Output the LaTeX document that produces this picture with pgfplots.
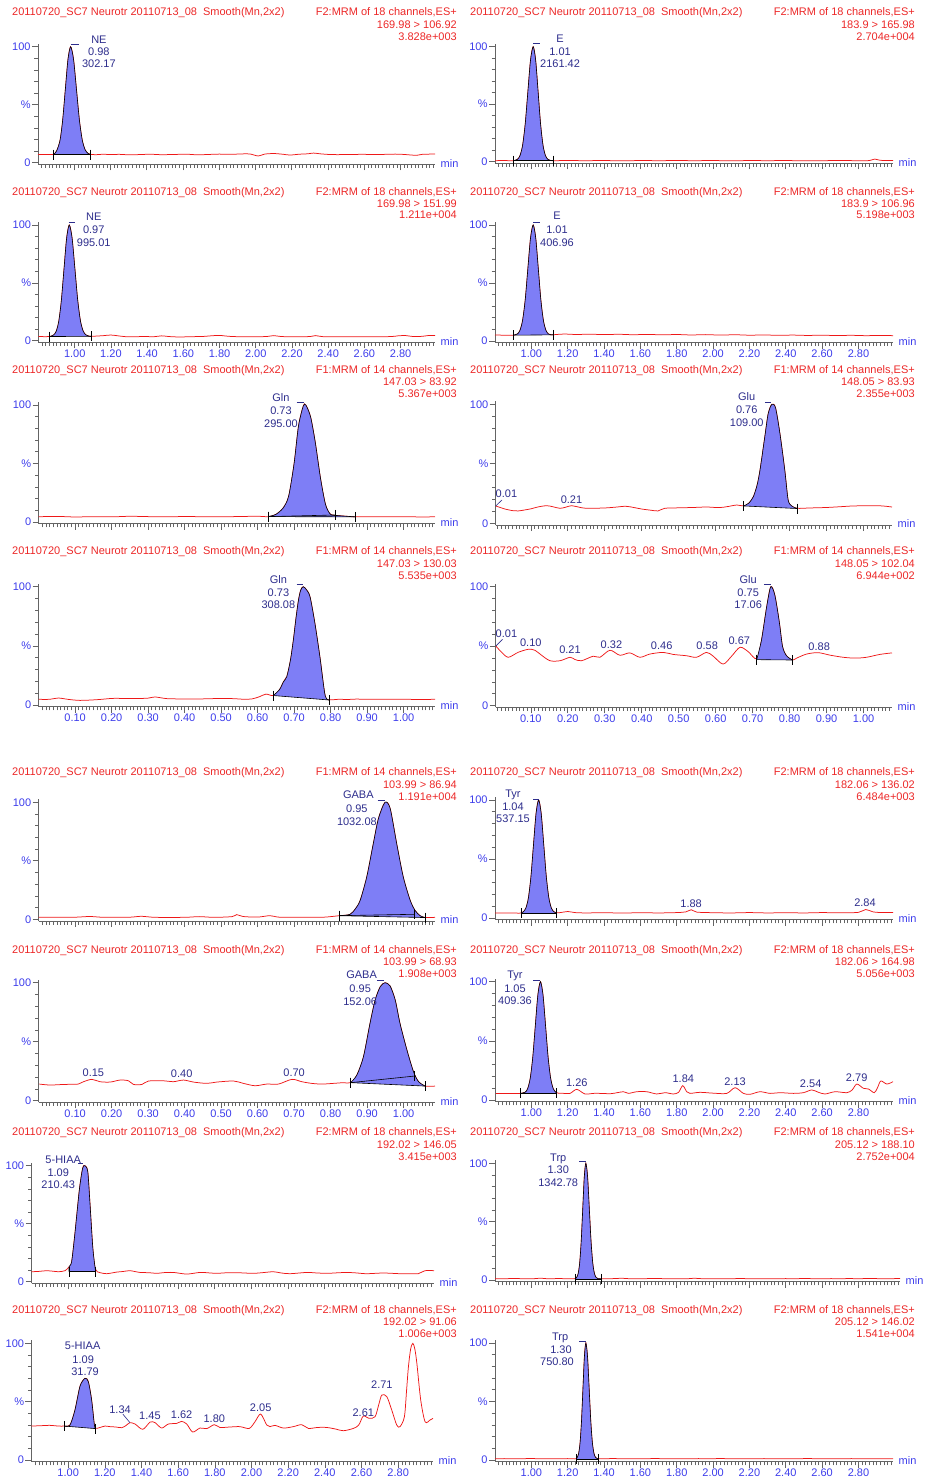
\documentclass[border=0pt]{standalone}
\usepackage{fontspec}
\setmainfont{Liberation Sans}
\usepackage{pgfplots}
\pgfplotsset{compat=1.18}

\definecolor{trcred}{RGB}{238,24,24}
\definecolor{hdrred}{RGB}{236,40,40}
\definecolor{tickblue}{RGB}{60,60,235}
\definecolor{lblnavy}{RGB}{45,45,140}
\definecolor{peakfill}{RGB}{126,126,246}
\definecolor{axgray}{RGB}{100,100,100}

\newcommand\pf{\fontsize{11}{13}\selectfont}

\tikzset{
  hdrsty/.style={font=\pf, text=hdrred, inner sep=0pt, text height=7.9pt, text depth=0pt},
  lbl/.style={font=\pf, text=lblnavy, inner sep=0pt, text height=7.9pt, text depth=0pt, anchor=center},
}

% panel header: x-left, x-right, y of the three lines, then the three right-hand lines
\newcommand\hdr[8]{%
  \node[hdrsty, anchor=west] at (#1pt,-#3pt) {20110720\_SC7 Neurotr 20110713\_08\hspace{0.55em}Smooth(Mn,2x2)};%
  \node[hdrsty, anchor=east] at (#2pt,-#3pt) {#6};%
  \node[hdrsty, anchor=east] at (#2pt,-#4pt) {#7};%
  \node[hdrsty, anchor=east] at (#2pt,-#5pt) {#8};%
}
% peak annotations
\newcommand\plab[3]{\node[lbl] at (axis cs:#1,#2) {#3};}
\newcommand\alab[3]{\node[lbl, yshift=#2pt] at (axis cs:#1,100) {#3};}
\newcommand\adash[3]{\draw[lblnavy, line width=0.7pt] ([yshift=#3pt]axis cs:#1,100) -- ([yshift=#3pt]axis cs:#2,100);}
\newcommand\bline[4]{\addplot[black, line width=0.6pt, mark=|, mark size=5pt, mark options={solid, line width=0.6pt}] coordinates {(#1,#2) (#3,#4)};}
\newcommand\minlab{\node[font=\pf, text=tickblue, inner sep=0pt, text height=5.7pt, text depth=0pt, anchor=west, xshift=5.5pt] at (rel axis cs:1,0) {min};}

\pgfplotsset{
  chrom/.style={
    scale only axis, anchor=south west,
    axis lines*=left, axis line style={axgray, line width=0.7pt, -},
    ymin=-1.5, ymax=102.5,
    ytick={0,50,100}, yticklabels={0,\%,100},
    minor ytick={10,20,30,40,60,70,80,90},
    tick align=outside, major tick length=6pt, minor tick length=3.5pt,
    tick style={axgray, line width=0.65pt},
    tick label style={font=\pf, text=tickblue, inner sep=1.2pt},
    /pgf/number format/assume math mode=true,
    xticklabel style={/pgf/number format/fixed, /pgf/number format/fixed zerofill, /pgf/number format/precision=2},
    clip=false,
  },
  wideax/.style={xtick={1,1.2,...,2.8}, minor xtick={0.82,0.84,...,2.98}},
  narrowax/.style={xtick={0.1,0.2,...,1.0}, minor xtick={0.01,0.02,...,1.08}},
  nolab/.style={xticklabels={}},
  tr/.style={draw=trcred, line width=0.75pt, smooth, tension=0.5},
  peak/.style={draw=black, line width=0.6pt, fill=peakfill, smooth, tension=0.45},
}

\begin{document}
\begin{tikzpicture}
\path[use as bounding box] (0,0) rectangle (924pt,-1479pt);

% ---------------- row 1 ----------------
\hdr{12}{457}{12}{24.5}{36.7}{F2:MRM of 18 channels,ES+}{169.98 > 106.92}{3.828e+003}
\hdr{470}{915}{12}{24.5}{36.7}{F2:MRM of 18 channels,ES+}{183.9 > 165.98}{2.704e+004}

\begin{axis}[chrom, wideax, nolab, at={(38pt,-164.44pt)}, width=397pt, height=120.64pt, xmin=0.80, xmax=2.99]
\addplot[tr] coordinates {(0.80,7.2) (0.83,7.0) (0.86,7.1) (0.88,7.0) (0.893,8.0) (0.9055,11.1) (0.922,19.6) (0.9365,37.2) (0.951,63.4) (0.9655,89.1) (0.98,100) (0.996,89.1) (1.012,63.4) (1.028,37.2) (1.044,19.6) (1.06,11.1) (1.076,8.0) (1.091,7.2) (1.12,6.9) (1.16,7.3) (1.20,7.0) (1.25,7.2) (1.30,6.8) (1.36,7.0) (1.42,7.3) (1.48,6.9) (1.55,7.1) (1.62,7.3) (1.68,6.8) (1.74,7.1) (1.80,7.4) (1.86,7.2) (1.93,7.6) (1.97,7.5) (2.015,5.8) (2.05,7.4) (2.10,7.9) (2.15,7.3) (2.19,6.6) (2.24,7.3) (2.29,7.7) (2.32,8.3) (2.36,7.6) (2.42,7.0) (2.50,7.0) (2.58,7.2) (2.66,7.1) (2.72,7.2) (2.77,7.4) (2.82,7.1) (2.86,6.6) (2.89,6.4) (2.92,7.2) (2.96,7.4) (2.99,7.4)};
\addplot[peak] coordinates {(0.887,7.0) (0.893,8.0) (0.9055,11.1) (0.922,19.6) (0.9365,37.2) (0.951,63.4) (0.9655,89.1) (0.98,100) (0.996,89.1) (1.012,63.4) (1.028,37.2) (1.044,19.6) (1.06,11.1) (1.076,8.0) (1.091,7.0)};
\bline{0.887}{7}{1.091}{7}
\alab{1.136}{6.7}{NE}\alab{1.136}{-5.3}{0.98}\alab{1.136}{-16.6}{302.17}
\adash{0.98}{1.024}{2.7}
\minlab
\end{axis}

\begin{axis}[chrom, wideax, nolab, at={(495pt,-163.43pt)}, width=398pt, height=119.6pt, xmin=0.80, xmax=2.99]
\addplot[tr] coordinates {(0.80,0.9) (0.85,1.0) (0.90,0.9) (0.923,2.0) (0.9375,5.25) (0.952,14.3) (0.9665,33.1) (0.981,61.0) (0.9955,88.4) (1.01,100) (1.0235,88.4) (1.037,61.0) (1.0505,33.1) (1.064,14.3) (1.0775,5.25) (1.091,2.0) (1.105,1.1) (1.12,0.9) (1.2,1.0) (1.3,0.9) (1.4,1.0) (1.5,0.8) (1.6,1.0) (1.7,0.9) (1.8,1.0) (1.9,0.9) (2.0,1.0) (2.1,0.8) (2.2,1.0) (2.3,0.9) (2.4,1.0) (2.5,0.8) (2.6,0.9) (2.7,1.0) (2.8,0.9) (2.86,1.0) (2.89,2.3) (2.92,1.2) (2.99,1.0)};
\addplot[peak] coordinates {(0.90,0.9) (0.923,2.0) (0.9375,5.25) (0.952,14.3) (0.9665,33.1) (0.981,61.0) (0.9955,88.4) (1.01,100) (1.0235,88.4) (1.037,61.0) (1.0505,33.1) (1.064,14.3) (1.0775,5.25) (1.091,2.0) (1.105,1.1) (1.121,0.9)};
\bline{0.90}{0.9}{1.121}{0.9}
\alab{1.158}{8.4}{E}\alab{1.158}{-5}{1.01}\alab{1.158}{-17.3}{2161.42}
\adash{1.01}{1.05}{3.4}
\minlab
\end{axis}

% ---------------- row 2 ----------------
\hdr{12}{457}{192}{203.5}{215}{F2:MRM of 18 channels,ES+}{169.98 > 151.99}{1.211e+004}
\hdr{470}{915}{192}{203.5}{215}{F2:MRM of 18 channels,ES+}{183.9 > 106.96}{5.198e+003}

\begin{axis}[chrom, wideax, at={(38.5pt,-342.44pt)}, width=396.5pt, height=120.33pt, xmin=0.80, xmax=2.99]
\addplot[tr] coordinates {(0.80,3.6) (0.84,3.5) (0.862,3.6) (0.883,4.9) (0.8975,8.0) (0.912,16.8) (0.9265,35.0) (0.941,62.1) (0.9555,88.7) (0.97,100) (0.9855,88.7) (1.001,62.1) (1.0165,35.0) (1.032,16.8) (1.0475,8.0) (1.063,4.9) (1.078,4.0) (1.091,3.8) (1.12,4.0) (1.16,4.4) (1.20,4.9) (1.24,4.2) (1.28,3.5) (1.32,3.4) (1.38,3.6) (1.44,3.5) (1.48,4.2) (1.52,3.6) (1.58,3.2) (1.64,3.5) (1.70,3.6) (1.76,4.3) (1.80,4.6) (1.85,3.8) (1.92,3.4) (2.00,3.5) (2.06,3.6) (2.10,4.4) (2.14,3.6) (2.22,3.4) (2.30,3.6) (2.33,4.4) (2.37,3.5) (2.45,3.4) (2.55,3.5) (2.65,3.4) (2.75,3.6) (2.79,4.3) (2.83,4.4) (2.87,3.6) (2.92,3.8) (2.95,4.4) (2.99,4.4)};
\addplot[peak] coordinates {(0.862,3.6) (0.883,4.9) (0.8975,8.0) (0.912,16.8) (0.9265,35.0) (0.941,62.1) (0.9555,88.7) (0.97,100) (0.9855,88.7) (1.001,62.1) (1.0165,35.0) (1.032,16.8) (1.0475,8.0) (1.063,4.9) (1.078,4.0) (1.091,3.8)};
\bline{0.862}{3.6}{1.091}{3.8}
\alab{1.105}{8.3}{NE}\alab{1.105}{-5}{0.97}\alab{1.105}{-17.7}{995.01}
\adash{0.967}{1.004}{2.7}
\minlab
\end{axis}

\begin{axis}[chrom, wideax, at={(495pt,-342.74pt)}, width=398pt, height=120.64pt, xmin=0.80, xmax=2.99]
\addplot[tr] coordinates {(0.80,5.2) (0.85,5.0) (0.90,5.0) (0.923,6.05) (0.9375,9.2) (0.952,17.9) (0.9665,35.8) (0.981,62.6) (0.9955,88.8) (1.01,100) (1.024,88.8) (1.038,62.6) (1.052,35.8) (1.066,17.9) (1.08,9.2) (1.094,6.05) (1.108,5.3) (1.13,5.5) (1.18,6.0) (1.25,5.6) (1.32,5.9) (1.40,5.5) (1.48,5.8) (1.56,5.4) (1.64,5.7) (1.72,5.3) (1.80,5.6) (1.88,5.2) (1.96,5.5) (2.04,5.1) (2.12,5.4) (2.20,5.0) (2.28,5.2) (2.36,4.9) (2.44,5.1) (2.52,4.8) (2.60,5.0) (2.68,4.7) (2.76,4.9) (2.84,4.6) (2.92,4.8) (2.99,4.6)};
\addplot[peak] coordinates {(0.90,5.0) (0.923,6.05) (0.9375,9.2) (0.952,17.9) (0.9665,35.8) (0.981,62.6) (0.9955,88.8) (1.01,100) (1.024,88.8) (1.038,62.6) (1.052,35.8) (1.066,17.9) (1.08,9.2) (1.094,6.05) (1.108,5.3) (1.12,5.3)};
\bline{0.90}{5.0}{1.12}{5.3}
\alab{1.141}{9}{E}\alab{1.141}{-5}{1.01}\alab{1.141}{-18}{406.96}
\adash{1.01}{1.05}{3}
\minlab
\end{axis}

% ---------------- row 3 ----------------
\hdr{12}{457}{370}{382}{393.5}{F1:MRM of 14 channels,ES+}{147.03 > 83.92}{5.367e+003}
\hdr{470}{915}{370}{382}{393.5}{F1:MRM of 14 channels,ES+}{148.05 > 83.93}{2.355e+003}

\begin{axis}[chrom, narrowax, nolab, at={(38.6pt,-523.76pt)}, width=396.4pt, height=121.68pt, xmin=0, xmax=1.086]
\addplot[tr] coordinates {(0.0,4.5) (0.05,4.8) (0.10,4.3) (0.15,4.6) (0.20,4.4) (0.25,4.9) (0.30,4.6) (0.35,4.4) (0.40,4.7) (0.45,4.5) (0.50,4.4) (0.55,4.7) (0.60,4.9) (0.629,4.6) (0.65,6.5) (0.67,12) (0.685,22) (0.70,50) (0.712,82) (0.725,99) (0.732,100) (0.745,90) (0.758,68) (0.772,38) (0.786,15) (0.80,6.5) (0.82,5.5) (0.84,5.0) (0.867,4.4) (0.90,4.6) (0.95,4.5) (1.0,4.6) (1.05,4.3) (1.086,4.5)};
\addplot[peak] coordinates {(0.629,4.6) (0.65,6.5) (0.67,12) (0.685,22) (0.70,50) (0.712,82) (0.725,99) (0.732,100) (0.745,90) (0.758,68) (0.772,38) (0.786,15) (0.80,6.5) (0.82,5.5) (0.84,5.0) (0.867,4.4)};
\bline{0.629}{4.6}{0.812}{6.0}
\bline{0.629}{4.6}{0.867}{4.4}
\alab{0.664}{7.4}{Gln}\alab{0.664}{-5.6}{0.73}\alab{0.664}{-18.3}{295.00}
\adash{0.707}{0.728}{2.7}
\minlab
\end{axis}

\begin{axis}[chrom, narrowax, nolab, at={(495.7pt,-525.09pt)}, width=396.3pt, height=123.76pt, xmin=0.005, xmax=1.077]
\addplot[tr] coordinates {(0.005,14.6) (0.03,12.0) (0.052,10.6) (0.066,10.4) (0.085,11.3) (0.102,12.3) (0.12,13.8) (0.143,14.8) (0.16,13.9) (0.179,12.6) (0.195,13.6) (0.21,14.8) (0.23,13.6) (0.25,12.6) (0.30,12.9) (0.33,13.6) (0.357,14.3) (0.38,13.2) (0.40,12.0) (0.425,11.0) (0.444,10.4) (0.462,12.6) (0.50,13.0) (0.54,13.3) (0.575,13.7) (0.61,13.2) (0.635,14.2) (0.657,15.4) (0.676,14.6) (0.69,17.0) (0.702,22.4) (0.712,32) (0.72,44.8) (0.733,72.8) (0.742,92) (0.752,100) (0.762,97) (0.774,75) (0.787,44.5) (0.796,19.6) (0.806,14.5) (0.821,12.6) (0.855,12.9) (0.90,13.3) (0.94,14.0) (0.975,14.6) (1.04,14.8) (1.077,13.7)};
\addplot[peak] coordinates {(0.676,14.6) (0.69,17.0) (0.702,22.4) (0.712,32) (0.72,44.8) (0.733,72.8) (0.742,92) (0.752,100) (0.762,97) (0.774,75) (0.787,44.5) (0.796,19.6) (0.806,14.5) (0.821,12.4)};
\bline{0.676}{14.6}{0.821}{12.4}
\draw[lblnavy, line width=0.6pt] (axis cs:0.005,14.6) -- (axis cs:0.022,19.6);
\plab{0.034}{24.6}{0.01}\plab{0.21}{20.2}{0.21}
\alab{0.684}{7.6}{Glu}\alab{0.684}{-5.7}{0.76}\alab{0.684}{-18.4}{109.00}
\adash{0.733}{0.751}{2}
\minlab
\end{axis}

% ---------------- row 4 ----------------
\hdr{12}{457}{551}{564}{576}{F1:MRM of 14 channels,ES+}{147.03 > 130.03}{5.535e+003}
\hdr{470}{915}{551}{564}{576}{F1:MRM of 14 channels,ES+}{148.05 > 102.04}{6.944e+002}

\begin{axis}[chrom, narrowax, at={(38.6pt,-706.77pt)}, width=396.4pt, height=123.03pt, xmin=0, xmax=1.086]
\addplot[tr] coordinates {(0.0,4.8) (0.03,4.8) (0.054,5.9) (0.08,4.8) (0.113,3.9) (0.16,4.5) (0.205,5.6) (0.26,5.4) (0.30,5.8) (0.319,6.8) (0.351,5.4) (0.40,5.1) (0.44,5.1) (0.479,5.4) (0.53,5.4) (0.56,4.9) (0.584,5.1) (0.605,7.0) (0.623,9.2) (0.643,8.0) (0.66,13) (0.671,19.7) (0.68,24) (0.69,38) (0.698,55) (0.705,73) (0.712,88.7) (0.718,97) (0.725,100) (0.735,97) (0.744,91) (0.757,69) (0.771,40) (0.785,8) (0.797,4.5) (0.82,4.8) (0.85,4.7) (0.87,5.0) (0.90,4.8) (0.95,4.8) (1.0,4.8) (1.05,4.7) (1.086,4.8)};
\addplot[peak] coordinates {(0.643,8.0) (0.66,13) (0.671,19.7) (0.68,24) (0.69,38) (0.698,55) (0.705,73) (0.712,88.7) (0.718,97) (0.725,100) (0.735,97) (0.744,91) (0.757,69) (0.771,40) (0.785,8) (0.797,4.2)};
\bline{0.643}{8.0}{0.797}{4.2}
\alab{0.657}{7.4}{Gln}\alab{0.657}{-5.6}{0.73}\alab{0.657}{-18.3}{308.08}
\adash{0.707}{0.725}{2.7}
\minlab
\end{axis}

\begin{axis}[chrom, narrowax, at={(495.7pt,-707.49pt)}, width=396.3pt, height=123.76pt, xmin=0.005, xmax=1.077]
\addplot[tr] coordinates {(0.0054,50.2) (0.021,44.9) (0.039,40.7) (0.066,44.9) (0.093,47.4) (0.111,46.6) (0.129,42.4) (0.152,37.8) (0.179,37.8) (0.206,40.7) (0.219,38.9) (0.237,37.8) (0.269,41.6) (0.287,40.7) (0.314,46.6) (0.341,42.4) (0.368,44.4) (0.395,40.7) (0.422,43.4) (0.458,44.8) (0.485,43.1) (0.521,42.0) (0.548,40.7) (0.575,44.8) (0.593,41.7) (0.62,35.0) (0.643,41.6) (0.666,49.1) (0.688,45.4) (0.711,39.5) (0.724,55.2) (0.738,83.2) (0.749,100) (0.760,93) (0.772,70.6) (0.781,49.6) (0.792,41.8) (0.808,38.4) (0.819,40.0) (0.846,43.4) (0.877,44.6) (0.909,42.5) (0.945,40.7) (0.977,40) (1.008,40.7) (1.044,43.1) (1.077,44.4)};
\addplot[peak] coordinates {(0.711,38.7) (0.724,55.2) (0.738,83.2) (0.749,100) (0.760,93) (0.772,70.6) (0.781,49.6) (0.792,41.8) (0.808,38.4)};
\bline{0.711}{38.7}{0.808}{38.4}
\draw[lblnavy, line width=0.6pt] (axis cs:0.0054,50.2) -- (axis cs:0.0235,55.8);
\plab{0.034}{60.8}{0.01}\plab{0.100}{52.9}{0.10}\plab{0.206}{46.8}{0.21}\plab{0.318}{51.8}{0.32}
\plab{0.454}{50.2}{0.46}\plab{0.577}{50.2}{0.58}\plab{0.664}{54.6}{0.67}\plab{0.880}{49.6}{0.88}
\alab{0.688}{7.4}{Glu}\alab{0.688}{-5.6}{0.75}\alab{0.688}{-18.3}{17.06}
\adash{0.7305}{0.749}{2.7}
\minlab
\end{axis}

% ---------------- row 5 ----------------
\hdr{12}{457}{772}{785}{796.5}{F1:MRM of 14 channels,ES+}{103.99 > 86.94}{1.191e+004}
\hdr{470}{915}{772}{785}{796.5}{F2:MRM of 18 channels,ES+}{182.06 > 136.02}{6.484e+003}

\begin{axis}[chrom, narrowax, nolab, at={(38.6pt,-921.06pt)}, width=396.4pt, height=121.68pt, xmin=0, xmax=1.086]
\addplot[tr] coordinates {(0.0,1.7) (0.05,1.7) (0.10,1.8) (0.14,2.4) (0.18,1.7) (0.25,1.8) (0.28,2.6) (0.32,1.7) (0.40,1.7) (0.44,2.3) (0.48,1.7) (0.53,2.3) (0.543,4.0) (0.56,2.4) (0.60,1.9) (0.634,3.1) (0.66,1.8) (0.72,1.7) (0.78,1.8) (0.824,3.1) (0.853,4.2) (0.868,9) (0.881,16.2) (0.899,36.2) (0.917,64.7) (0.931,86.1) (0.949,100) (0.963,94.9) (0.981,64.7) (0.999,36.2) (1.018,16.2) (1.031,7.7) (1.045,3.1) (1.059,1.5) (1.086,1.7)};
\addplot[peak] coordinates {(0.824,3.1) (0.853,4.2) (0.868,9) (0.881,16.2) (0.899,36.2) (0.917,64.7) (0.931,86.1) (0.949,100) (0.963,94.9) (0.981,64.7) (0.999,36.2) (1.018,16.2) (1.031,7.7) (1.045,3.1) (1.059,1.5)};
\bline{0.824}{3.1}{1.030}{4.3}
\bline{0.824}{3.1}{1.059}{1.5}
\alab{0.876}{7.3}{GABA}\alab{0.872}{-6.7}{0.95}\alab{0.872}{-19.4}{1032.08}
\adash{0.929}{0.949}{2.3}
\minlab
\end{axis}

\begin{axis}[chrom, wideax, nolab, at={(495pt,-919.77pt)}, width=398pt, height=122.72pt, xmin=0.80, xmax=2.99]
\addplot[tr] coordinates {(0.80,4.2) (0.85,4.3) (0.90,4.2) (0.943,4.2) (0.956,5.3) (0.97,8.4) (0.984,17.2) (0.998,35.3) (1.012,62.3) (1.026,88.7) (1.04,100) (1.054,88.7) (1.068,62.3) (1.082,35.3) (1.096,17.2) (1.11,8.4) (1.124,5.3) (1.138,4.5) (1.16,4.6) (1.20,5.5) (1.24,4.6) (1.30,4.3) (1.40,4.5) (1.50,4.2) (1.60,4.5) (1.70,4.3) (1.80,4.6) (1.85,5.2) (1.88,7.0) (1.91,5.0) (2.00,4.5) (2.10,4.3) (2.20,4.6) (2.30,4.3) (2.40,4.5) (2.50,4.3) (2.60,4.6) (2.70,4.4) (2.80,4.8) (2.84,7.2) (2.88,5.2) (2.93,4.6) (2.99,4.7)};
\addplot[peak] coordinates {(0.943,4.2) (0.956,5.3) (0.97,8.4) (0.984,17.2) (0.998,35.3) (1.012,62.3) (1.026,88.7) (1.04,100) (1.054,88.7) (1.068,62.3) (1.082,35.3) (1.096,17.2) (1.11,8.4) (1.124,5.3) (1.138,4.2)};
\bline{0.943}{4.2}{1.138}{4.2}
\plab{1.879}{11.9}{1.88}\plab{2.836}{12.7}{2.84}
\alab{0.899}{6.7}{Tyr}\alab{0.899}{-6.6}{1.04}\alab{0.899}{-19}{537.15}
\adash{1.011}{1.04}{1}
\minlab
\end{axis}

% ---------------- row 6 ----------------
\hdr{12}{457}{950}{961.5}{973.3}{F1:MRM of 14 channels,ES+}{103.99 > 68.93}{1.908e+003}
\hdr{470}{915}{950}{961.5}{973.3}{F2:MRM of 18 channels,ES+}{182.06 > 164.98}{5.056e+003}

\begin{axis}[chrom, narrowax, at={(38.6pt,-1102.47pt)}, width=396.4pt, height=122.72pt, xmin=0, xmax=1.086]
\addplot[tr] coordinates {(0.002,14.1) (0.031,13.3) (0.07,13.8) (0.109,14.1) (0.123,16.1) (0.146,18.1) (0.168,16.1) (0.196,15.8) (0.223,17.5) (0.246,16.9) (0.26,13.8) (0.283,13.8) (0.301,16.7) (0.342,16.9) (0.369,16.1) (0.397,17.5) (0.424,15.8) (0.461,14.7) (0.488,15.8) (0.534,16.7) (0.561,14.7) (0.593,12.7) (0.625,14.1) (0.657,14.1) (0.694,18.1) (0.721,16.1) (0.748,14.7) (0.776,14.1) (0.808,14.7) (0.835,15.3) (0.855,15.3) (0.872,21.8) (0.89,37.3) (0.908,65.6) (0.922,85.3) (0.936,96.6) (0.949,100) (0.963,97.2) (0.977,85.3) (0.99,65.6) (1.009,43.0) (1.027,24.6) (1.041,16.1) (1.059,12.4) (1.086,12.4)};
\addplot[peak] coordinates {(0.855,15.3) (0.872,21.8) (0.89,37.3) (0.908,65.6) (0.922,85.3) (0.936,96.6) (0.949,100) (0.963,97.2) (0.977,85.3) (0.99,65.6) (1.009,43.0) (1.027,24.6) (1.041,16.1) (1.059,12.4)};
\bline{0.855}{15.3}{1.030}{20.9}
\bline{0.855}{15.3}{1.059}{12.4}
\plab{0.15}{23.7}{0.15}\plab{0.392}{22.6}{0.40}\plab{0.70}{23.7}{0.70}
\alab{0.885}{7.7}{GABA}\alab{0.881}{-5.6}{0.95}\alab{0.881}{-19}{152.06}
\adash{0.927}{0.945}{2.7}
\minlab
\end{axis}

\begin{axis}[chrom, wideax, at={(495pt,-1101.77pt)}, width=398pt, height=123.03pt, xmin=0.80, xmax=2.99]
\addplot[tr] coordinates {(0.805,5.6) (0.85,5.6) (0.90,5.5) (0.94,5.6) (0.966,6.6) (0.98,9.7) (0.994,18.4) (1.008,36.3) (1.022,62.9) (1.036,88.9) (1.05,100) (1.064,88.9) (1.078,62.9) (1.092,36.3) (1.106,18.4) (1.12,9.7) (1.134,6.6) (1.148,5.8) (1.18,5.6) (1.213,5.6) (1.25,9.0) (1.295,5.1) (1.34,5.6) (1.378,5.6) (1.44,5.4) (1.506,7.0) (1.534,5.6) (1.58,7.0) (1.635,7.0) (1.69,5.1) (1.736,6.2) (1.781,5.1) (1.81,6.5) (1.833,12.1) (1.855,7.0) (1.873,5.6) (1.928,6.5) (2.00,5.8) (2.075,5.6) (2.121,10.4) (2.167,5.6) (2.203,4.8) (2.258,7.0) (2.313,5.6) (2.368,6.2) (2.442,5.6) (2.497,6.2) (2.543,8.5) (2.58,6.5) (2.616,5.1) (2.671,7.0) (2.736,6.2) (2.765,8.5) (2.791,13.5) (2.827,9.9) (2.855,9.3) (2.887,6.2) (2.905,10.5) (2.923,16.1) (2.956,13.5) (2.99,15.5)};
\addplot[peak] coordinates {(0.94,5.6) (0.966,6.6) (0.98,9.7) (0.994,18.4) (1.008,36.3) (1.022,62.9) (1.036,88.9) (1.05,100) (1.064,88.9) (1.078,62.9) (1.092,36.3) (1.106,18.4) (1.12,9.7) (1.134,6.6) (1.14,5.6)};
\bline{0.94}{5.6}{1.14}{5.6}
\plab{1.25}{14.6}{1.26}\plab{1.836}{18.3}{1.84}\plab{2.121}{15.5}{2.13}\plab{2.537}{14.1}{2.54}\plab{2.79}{19.2}{2.79}
\alab{0.91}{6.7}{Tyr}\alab{0.91}{-6.6}{1.05}\alab{0.91}{-19}{409.36}
\adash{1.011}{1.048}{1}
\minlab
\end{axis}

% ---------------- row 7 ----------------
\hdr{12}{457}{1132}{1145}{1156.7}{F2:MRM of 18 channels,ES+}{192.02 > 146.05}{3.415e+003}
\hdr{470}{915}{1132}{1145}{1156.7}{F2:MRM of 18 channels,ES+}{205.12 > 188.10}{2.752e+004}

\begin{axis}[chrom, wideax, nolab, at={(31.5pt,-1283.44pt)}, width=402.5pt, height=120.64pt, xmin=0.80, xmax=2.996]
\addplot[tr] coordinates {(0.80,8.6) (0.84,8.9) (0.883,9.5) (0.92,9.0) (0.946,8.6) (0.983,9.5) (1.005,12.9) (1.019,17.2) (1.037,41.7) (1.061,79) (1.079,97.8) (1.092,100) (1.107,94.8) (1.119,67.5) (1.134,30.2) (1.146,13.0) (1.16,8.5) (1.174,7.8) (1.21,6.9) (1.265,8.3) (1.30,8.8) (1.337,9.5) (1.392,8.0) (1.44,7.8) (1.483,7.2) (1.52,7.8) (1.574,8.0) (1.647,6.6) (1.719,8.0) (1.77,7.6) (1.81,7.2) (1.85,7.6) (1.901,7.8) (1.95,7.6) (2.01,7.2) (2.06,7.8) (2.119,8.6) (2.16,7.6) (2.21,6.9) (2.301,8.0) (2.35,7.6) (2.41,7.2) (2.46,7.6) (2.52,8.0) (2.57,7.6) (2.629,6.9) (2.719,7.5) (2.81,6.9) (2.87,6.9) (2.91,6.9) (2.947,9.5) (2.996,9.5)};
\addplot[peak] coordinates {(1.005,8.6) (1.005,12.9) (1.019,17.2) (1.037,41.7) (1.061,79) (1.079,97.8) (1.092,100) (1.107,94.8) (1.119,67.5) (1.134,30.2) (1.146,13.0) (1.15,8.6)};
\bline{1.005}{8.6}{1.15}{8.6}
\alab{0.973}{6.4}{5-HIAA}\alab{0.946}{-6.6}{1.09}\alab{0.946}{-19.3}{210.43}
\adash{1.055}{1.083}{2.4}
\minlab
\end{axis}

\begin{axis}[chrom, nolab, xtick={1,1.2,...,2.8}, minor xtick={0.82,0.84,...,3.02}, at={(495pt,-1281.75pt)}, width=405pt, height=121.37pt, xmin=0.80, xmax=3.029]
\addplot[tr] coordinates {(0.80,1.2) (0.85,1.0) (0.90,1.4) (0.95,1.1) (1.00,1.0) (1.05,1.5) (1.10,1.0) (1.15,1.3) (1.20,1.0) (1.24,1.1) (1.249,2.1) (1.2575,5.3) (1.266,14.4) (1.2745,33.1) (1.283,61.0) (1.2915,88.4) (1.30,100) (1.3095,88.4) (1.319,61.0) (1.3285,33.1) (1.338,14.4) (1.3475,5.3) (1.357,2.1) (1.3665,1.2) (1.39,1.0) (1.45,1.2) (1.50,1.5) (1.55,1.0) (1.62,1.1) (1.68,1.4) (1.75,1.0) (1.80,1.1) (1.85,1.0) (1.90,1.5) (1.95,1.0) (2.02,1.1) (2.10,1.0) (2.15,1.4) (2.20,1.0) (2.30,1.1) (2.35,1.0) (2.40,1.2) (2.45,1.0) (2.50,1.4) (2.55,1.1) (2.60,1.0) (2.65,1.2) (2.70,1.0) (2.75,1.3) (2.80,1.0) (2.85,1.4) (2.90,1.2) (2.95,1.0) (3.00,1.2) (3.029,1.2)};
\addplot[peak] coordinates {(1.24,1.0) (1.249,2.1) (1.2575,5.3) (1.266,14.4) (1.2745,33.1) (1.283,61.0) (1.2915,88.4) (1.30,100) (1.3095,88.4) (1.319,61.0) (1.3285,33.1) (1.338,14.4) (1.3475,5.3) (1.357,2.1) (1.3665,1.2) (1.387,1.0)};
\bline{1.24}{1.0}{1.387}{1.0}
\alab{1.148}{6}{Trp}\alab{1.148}{-6.7}{1.30}\alab{1.148}{-19.4}{1342.78}
\adash{1.264}{1.30}{1.6}
\minlab
\end{axis}

% ---------------- row 8 ----------------
\hdr{12}{457}{1310}{1321.5}{1333.3}{F2:MRM of 18 channels,ES+}{192.02 > 91.06}{1.006e+003}
\hdr{470}{915}{1310}{1321.5}{1333.3}{F2:MRM of 18 channels,ES+}{205.12 > 146.02}{1.541e+004}

\begin{axis}[chrom, wideax, at={(31.5pt,-1461.75pt)}, width=401.5pt, height=121.37pt, xmin=0.80, xmax=2.99]
\addplot[tr] coordinates {(0.80,29.1) (0.85,29.4) (0.901,29.7) (0.947,29.1) (0.979,29.1) (1.01,30.0) (1.037,42.8) (1.065,63.4) (1.092,70.0) (1.11,67.1) (1.128,51.4) (1.143,30.0) (1.15,27.1) (1.174,27.9) (1.201,29.1) (1.228,28.6) (1.26,28.3) (1.292,27.7) (1.315,29.5) (1.337,32.0) (1.365,30.8) (1.407,26.3) (1.447,32.5) (1.474,32.0) (1.51,27.4) (1.546,30.8) (1.592,31.4) (1.619,33.1) (1.647,30.8) (1.679,24.0) (1.719,27.4) (1.756,26.9) (1.797,30.3) (1.828,27.9) (1.883,28.3) (1.937,28.6) (1.988,27.1) (2.019,32.8) (2.05,39.4) (2.083,30.0) (2.101,28.6) (2.128,29.7) (2.174,27.4) (2.228,28.6) (2.274,30.3) (2.31,27.1) (2.36,27.9) (2.41,27.9) (2.46,26.5) (2.501,25.1) (2.556,27.1) (2.585,30.0) (2.61,37.7) (2.64,35.7) (2.674,37.1) (2.695,48) (2.711,55.7) (2.738,54.3) (2.765,42.8) (2.792,30.0) (2.81,28.6) (2.834,37.1) (2.846,60) (2.856,80.0) (2.868,95) (2.88,100) (2.891,95) (2.902,82.8) (2.923,51.4) (2.947,32.8) (2.974,34.3) (2.99,35.7)};
\addplot[peak] coordinates {(0.979,29.1) (1.01,30.0) (1.037,42.8) (1.065,63.4) (1.092,70.0) (1.11,67.1) (1.128,51.4) (1.143,30.0) (1.15,26.9)};
\bline{0.979}{29.1}{1.15}{26.9}
\draw[lblnavy, line width=0.6pt] (axis cs:1.298,39.4) -- (axis cs:1.337,32.0);
\plab{1.283}{43.4}{1.34}\plab{1.446}{38.0}{1.45}\plab{1.619}{38.6}{1.62}\plab{1.797}{35.7}{1.80}
\plab{2.05}{45.2}{2.05}\plab{2.61}{40.6}{2.61}\plab{2.711}{64.3}{2.71}
\plab{1.079}{97.7}{5-HIAA}\plab{1.082}{86.5}{1.09}\plab{1.092}{75.7}{31.79}
\minlab
\end{axis}

\begin{axis}[chrom, wideax, at={(495pt,-1461.76pt)}, width=398pt, height=121.68pt, xmin=0.80, xmax=2.99]
\addplot[tr] coordinates {(0.80,1.0) (0.85,1.2) (0.90,1.0) (0.95,1.1) (1.00,1.3) (1.05,1.0) (1.10,1.1) (1.15,1.0) (1.20,1.2) (1.248,1.0) (1.252,2.1) (1.26,5.3) (1.268,14.4) (1.276,33.1) (1.284,61.0) (1.292,88.4) (1.30,100) (1.309,88.4) (1.318,61.0) (1.327,33.1) (1.336,14.4) (1.345,5.3) (1.354,2.1) (1.363,1.2) (1.40,1.0) (1.45,1.3) (1.50,1.0) (1.56,1.1) (1.62,1.0) (1.68,1.3) (1.74,1.0) (1.80,1.1) (1.86,1.0) (1.92,1.2) (1.98,1.0) (2.04,1.3) (2.10,1.0) (2.16,1.1) (2.22,1.0) (2.28,1.2) (2.34,1.0) (2.40,1.1) (2.46,1.0) (2.52,1.3) (2.58,1.0) (2.64,1.1) (2.70,1.0) (2.76,1.2) (2.82,1.0) (2.88,1.1) (2.94,1.0) (2.99,1.1)};
\addplot[peak] coordinates {(1.248,1.0) (1.252,2.1) (1.26,5.3) (1.268,14.4) (1.276,33.1) (1.284,61.0) (1.292,88.4) (1.30,100) (1.309,88.4) (1.318,61.0) (1.327,33.1) (1.336,14.4) (1.345,5.3) (1.354,2.1) (1.363,1.2) (1.367,1.0)};
\bline{1.248}{1.0}{1.367}{1.0}
\alab{1.158}{6}{Trp}\alab{1.163}{-7}{1.30}\alab{1.141}{-19}{750.80}
\adash{1.264}{1.30}{1.6}
\minlab
\end{axis}

\end{tikzpicture}
\end{document}
